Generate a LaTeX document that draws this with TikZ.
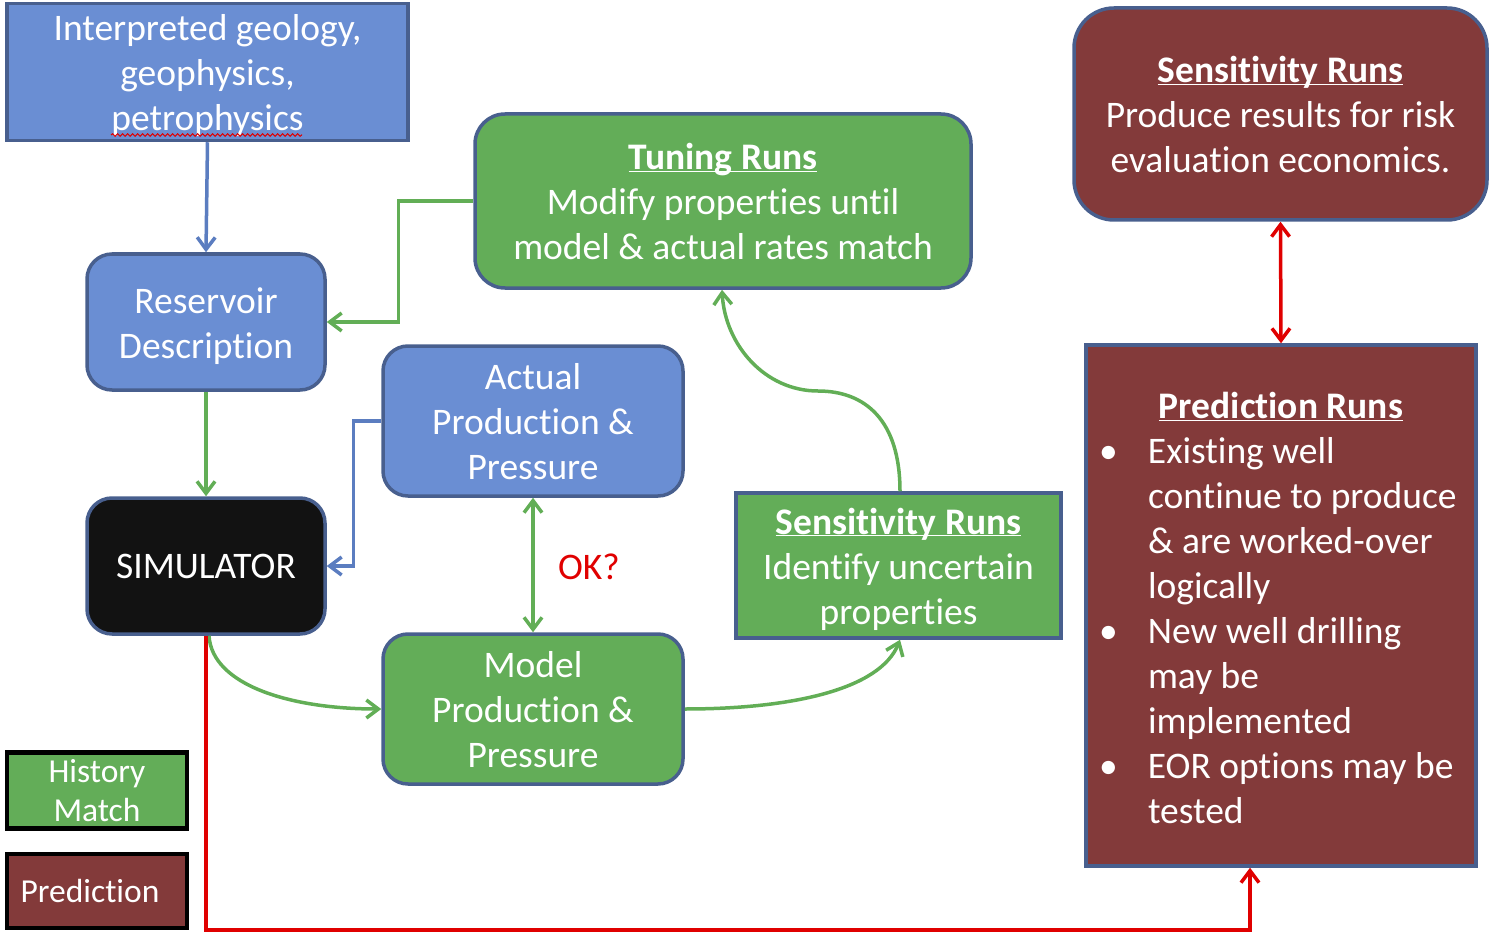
\documentclass[tikz,border=0pt]{standalone}
\usepackage{fontspec}
\setmainfont{Carlito}[Ligatures=NoCommon]
\usetikzlibrary{arrows.meta,decorations.pathmorphing,calc}
\definecolor{bfill}{HTML}{6A8ED3}
\definecolor{gfill}{HTML}{63AD58}
\definecolor{rfill}{HTML}{833A3A}
\definecolor{bord}{HTML}{485F8E}
\definecolor{bline}{HTML}{5B7DC0}
\definecolor{gline}{HTML}{62AE56}
\definecolor{rline}{HTML}{E00000}
\newcommand{\ttl}[1]{\textbf{\underline{\smash{#1}}}}
\newcommand{\topst}{\rule{0pt}{37pt}}
\newcommand{\botst}{\rule[-10pt]{0pt}{0pt}}
\begin{document}
\begin{tikzpicture}[x=1pt,y=-1pt,
  txt/.style={font=\fontsize{37.5}{45}\selectfont, text=white, align=center, inner sep=0pt},
  bbox/.style={txt, fill=bfill, draw=bord, line width=3.5pt},
  gbox/.style={txt, fill=gfill, draw=bord, line width=3.5pt},
  rbox/.style={txt, fill=rfill, draw=bord, line width=3.5pt},
  legbox/.style={txt, font=\fontsize{33.5}{39}\selectfont, draw=black, line width=4.5pt, minimum width=180pt, minimum height=76pt},
  conn/.style={line width=3.5pt, -{Straight Barb[length=12pt,width=18pt]}},
  dconn/.style={line width=3.5pt, {Straight Barb[length=12pt,width=18pt]}-{Straight Barb[length=12pt,width=18pt]}},
]
\useasboundingbox (0,0) rectangle (1494,944);

% nodes
\node[bbox, minimum width=401pt, minimum height=136pt] (interp) at (207.5,72)
  {\topst Interpreted geology,\\geophysics,\\petrophysics\botst};
\node[bbox, rounded corners=25pt, minimum width=238pt, minimum height=136pt] (res) at (206,322)
  {\topst Reservoir\\Description\botst};
\node[txt, fill=black!93, draw=bord, line width=3.5pt, rounded corners=25pt, minimum width=238pt, minimum height=136pt] (sim) at (206,566)
  {SIMULATOR};
\node[bbox, rounded corners=25pt, minimum width=300pt, minimum height=150pt] (act) at (533,421)
  {\topst Actual\\Production \&\\Pressure\botst};
\node[gbox, rounded corners=25pt, minimum width=300pt, minimum height=150pt] (mod) at (533,709)
  {\topst Model\\Production \&\\Pressure\botst};
\node[gbox, rounded corners=30pt, minimum width=496pt, minimum height=174pt] (tun) at (723,201)
  {\topst\ttl{Tuning Runs}\\Modify properties until\\model \& actual rates match\botst};
\node[gbox, minimum width=325pt, minimum height=145pt] (sens) at (898.5,565.5)
  {\topst\ttl{Sensitivity Runs}\\Identify uncertain\\properties\botst};
\node[rbox, rounded corners=40pt, minimum width=413pt, minimum height=212pt] (rsens) at (1280.5,114)
  {\topst\ttl{Sensitivity Runs}\\Produce results for risk\\evaluation economics.\botst};
\node[rbox, minimum width=390pt, minimum height=521pt] (pred) at (1281,605.5)
  {\parbox{376pt}{\fontsize{37.5}{45}\selectfont\centering\rule{0pt}{31pt}\ttl{Prediction Runs}\par
   \raggedright
   \hspace*{6pt}\makebox[49pt][l]{\textbullet}Existing well\par
   \hspace*{55pt}continue to produce\par
   \hspace*{55pt}\& are worked-over\par
   \hspace*{55pt}logically\par
   \hspace*{6pt}\makebox[49pt][l]{\textbullet}New well drilling\par
   \hspace*{55pt}may be\par
   \hspace*{55pt}implemented\par
   \hspace*{6pt}\makebox[49pt][l]{\textbullet}EOR options may be\par
   \hspace*{55pt}tested}};
\node[legbox, fill=gfill] (leghm) at (97,790.5) {History\\Match};
\node[legbox, fill=rfill, minimum height=74pt] (legpr) at (97,891) {\hspace*{-14pt}Prediction};
\node[font=\fontsize{37.5}{45}\selectfont, text=rline, inner sep=0pt] (ok) at (589,567) {OK?};

% spell-check squiggle
\draw[rline, line width=1pt, decorate, decoration={snake, amplitude=1.3pt, segment length=5pt}]
  (111,135) -- (302,135);

% connectors
\draw[conn, bline] (interp.south) -- (res.north);
\draw[conn, gline] (res.south) -- (sim.north);
\draw[conn, gline] (tun.west) -- ++(-75,0) |- (res.east);
\draw[conn, bline] (act.west) -- ++(-28,0) |- (sim.east);
\draw[dconn, gline] (act.south) -- (mod.north);
\draw[conn, gline] ([xshift=3pt]sim.south) .. controls (212,685) and (290,709) .. (mod.west);
\draw[conn, gline] (mod.east) .. controls (790,709) and (880,690) .. ([xshift=1.5pt]sens.south);
\draw[conn, gline]
  ([xshift=1.5pt]sens.north) .. controls (900,420) and (865,391) .. (818,391)
  .. controls (765,391) and (725,345) .. ([xshift=-1pt]tun.south);
\draw[dconn, rline] (rsens.south) -- (pred.north);
\draw[conn, rline] (sim.south) -- ++(0,294) -| ([xshift=-31pt]pred.south);
\end{tikzpicture}
\end{document}
